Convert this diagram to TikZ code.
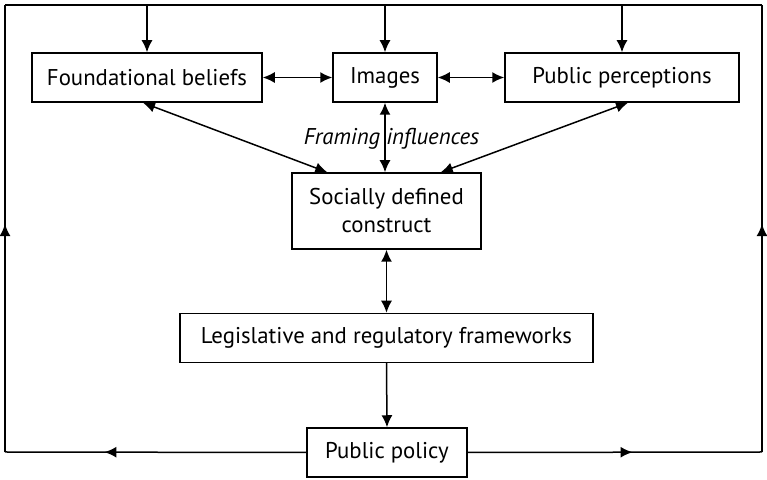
\documentclass[tikz,border=0pt]{standalone}
\usepackage{fontspec}
\setmainfont{PT Sans}
\usetikzlibrary{arrows.meta,decorations.markings}

\begin{document}
\begin{tikzpicture}[x=0.5pt,y=-0.5pt,
    line width=0.75pt,
    >={Latex[length=6pt,width=5.5pt]},
    box/.style={draw,inner sep=0pt,minimum height=24.5pt,font=\fontsize{11.4}{14}\selectfont,align=center},
    arrowat/.style={postaction={decorate,decoration={markings,mark=at position #1 with {\arrow{>}}}}}]
    %initialisation
    \useasboundingbox (0,0) rectangle (767,480);
    %definitions
    \node[box,minimum width=115pt] (fb) at (147,77.5) {Foundational beliefs};
    \node[box,minimum width=52pt] (im) at (385,77.5) {Images};
    \node[box,minimum width=117pt] (pp) at (622,77.5) {Public perceptions};
    \node[box,minimum width=94.5pt,minimum height=38pt] (sdc) at (386.5,211) {Socially defined\\construct};
    \node[box,minimum width=206.5pt] (lrf) at (386.5,338) {Legislative and regulatory frameworks};
    \node[box,minimum width=80pt] (pol) at (387,452.5) {Public policy};
    \coordinate (bl) at (5,452);
    \coordinate (tl) at (5,5);
    \coordinate (tr) at (762,5);
    \coordinate (br) at (762,452);
    %drawing
    \draw[arrowat=0.67] (pol.west) -- (bl);
    \draw[arrowat=0.51] (bl) -- (tl);
    \draw (tl) -- (tr);
    \draw[arrowat=0.56] (pol.east) -- (br);
    \draw[arrowat=0.51] (br) -- (tr);
    \draw[->] (fb.north |- tl) -- (fb.north);
    \draw[->] (im.north |- tl) -- (im.north);
    \draw[->] (pp.north |- tl) -- (pp.north);
    \draw[<->] (fb.east) -- (im.west);
    \draw[<->] (im.east) -- (pp.west);
    \draw[<->] ([xshift=-2pt]fb.south) -- ([xshift=18pt]sdc.north west);
    \draw[<->] (im.south) -- (im.south |- sdc.north);
    \draw[<->] ([xshift=3pt]pp.south) -- ([xshift=-20.5pt]sdc.north east);
    \draw[<->] (sdc.south) -- (lrf.north);
    \draw[->] (lrf.south) -- (pol.north);
    %label
    \node[font=\fontsize{11.4}{14}\selectfont\itshape,xshift=2.75pt] (fi) at (386,139) {Framing influences};
\end{tikzpicture}
\end{document}
